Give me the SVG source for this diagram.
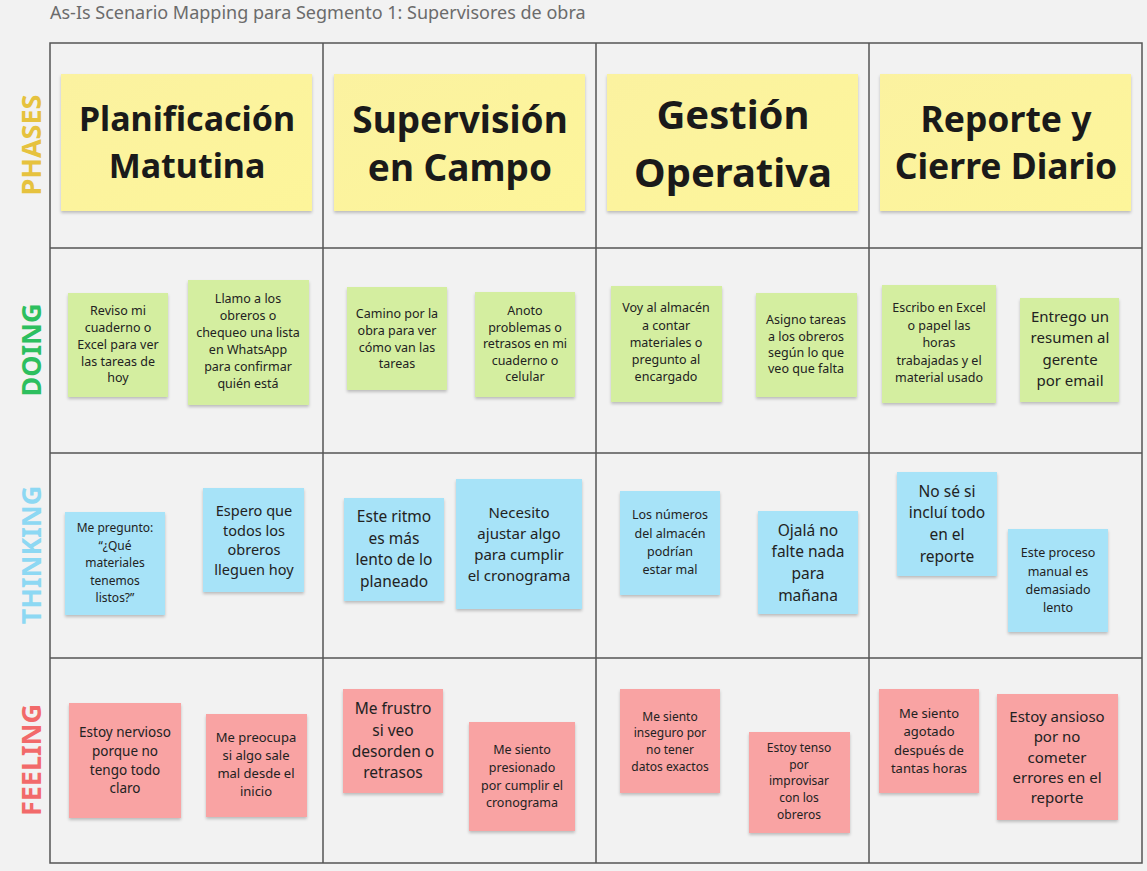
<svg xmlns="http://www.w3.org/2000/svg" width="1147" height="871" viewBox="0 0 1147 871">
<defs>
<filter id="sh" x="-10%" y="-10%" width="120%" height="125%">
<feDropShadow dx="0" dy="2" stdDeviation="1.5" flood-color="#000" flood-opacity="0.22"/>
</filter>
<linearGradient id="yg" x1="0" y1="0" x2="1" y2="1">
<stop offset="0" stop-color="#FBF2A0"/><stop offset="1" stop-color="#FDF59A"/>
</linearGradient>
<style>
text{font-family:"Noto Sans","Open Sans","DejaVu Sans",sans-serif;text-anchor:middle;dominant-baseline:central;fill:#222}
.title{font-size:18px;fill:#6b6b6b;text-anchor:start;dominant-baseline:auto}
.lbl{font-size:27px;font-weight:bold}
.grid{fill:none;stroke:#555;stroke-width:1.5}
.ph rect{fill:url(#yg)}
.dg rect{fill:#D4EEA0}
.th rect{fill:#A7E3F8}
.fe rect{fill:#F9A3A3}
.ph text{font-weight:bold;font-size:34px;fill:#1a1a1a}
rect{filter:url(#sh)}
</style>
</defs>
<rect x="0" y="0" width="1147" height="871" fill="#F2F2F2" style="filter:none"/>
<text class="title" x="50" y="19">As-Is Scenario Mapping para Segmento 1: Supervisores de obra</text>

<g id="grid">
<rect class="grid" x="50" y="43" width="1092" height="820" style="filter:none"/>
<path class="grid" d="M323 43V863M596 43V863M869 43V863M50 248H1142M50 453H1142M50 658H1142"/>
</g>

<g id="row-labels">
<text class="lbl" transform="translate(30,145) rotate(-90)" style="fill:#E6C23E">PHASES</text>
<text class="lbl" transform="translate(30,350) rotate(-90)" style="fill:#2DBF5E">DOING</text>
<text class="lbl" transform="translate(30,555) rotate(-90)" style="fill:#8DD8F3">THINKING</text>
<text class="lbl" transform="translate(30,760) rotate(-90)" style="fill:#F26A6A">FEELING</text>
</g>

<g class="ph">
<g id="phase1"><rect x="61" y="74" width="251" height="137"/><text x="187" y="118">Planificación</text><text x="187" y="165">Matutina</text></g>
<g id="phase2"><rect x="334" y="74" width="251" height="137"/><text x="460" y="118" style="font-size:37px">Supervisión</text><text x="460" y="166" style="font-size:37px">en Campo</text></g>
<g id="phase3"><rect x="607" y="74" width="251" height="137"/><text x="733" y="113" style="font-size:40px">Gestión</text><text x="733" y="171" style="font-size:40px">Operativa</text></g>
<g id="phase4"><rect x="880" y="74" width="251" height="137"/><text x="1006" y="118" style="font-size:35.5px">Reporte y</text><text x="1006" y="165" style="font-size:35.5px">Cierre Diario</text></g>
</g>

<g class="dg">
<g id="d1"><rect x="68" y="293" width="100" height="104"/><g font-size="12.5"><text x="118" y="310">Reviso mi</text><text x="118" y="327">cuaderno o</text><text x="118" y="344">Excel para ver</text><text x="118" y="361">las tareas de</text><text x="118" y="377">hoy</text></g></g>
<g id="d2"><rect x="188" y="280" width="121" height="125"/><g font-size="12.5"><text x="248" y="298">Llamo a los</text><text x="248" y="315">obreros o</text><text x="248" y="332">chequeo una lista</text><text x="248" y="349">en WhatsApp</text><text x="248" y="366">para confirmar</text><text x="248" y="383">quién está</text></g></g>
<g id="d3"><rect x="347" y="287" width="100" height="103"/><g font-size="12.5"><text x="397" y="313">Camino por la</text><text x="397" y="330">obra para ver</text><text x="397" y="347">cómo van las</text><text x="397" y="363">tareas</text></g></g>
<g id="d4"><rect x="475" y="292" width="100" height="105"/><g font-size="12.5"><text x="525" y="310">Anoto</text><text x="525" y="327">problemas o</text><text x="525" y="343">retrasos en mi</text><text x="525" y="360">cuaderno o</text><text x="525" y="376">celular</text></g></g>
<g id="d5"><rect x="611" y="286" width="111" height="116"/><g font-size="12.5"><text x="666" y="307">Voy al almacén</text><text x="666" y="325">a contar</text><text x="666" y="342">materiales o</text><text x="666" y="359">pregunto al</text><text x="666" y="376">encargado</text></g></g>
<g id="d6"><rect x="756" y="293" width="101" height="104"/><g font-size="12.5"><text x="806" y="319">Asigno tareas</text><text x="806" y="336">a los obreros</text><text x="806" y="352">según lo que</text><text x="806" y="368">veo que falta</text></g></g>
<g id="d7"><rect x="882" y="285" width="114" height="118"/><g font-size="12.5"><text x="939" y="307">Escribo en Excel</text><text x="939" y="325">o papel las</text><text x="939" y="342">horas</text><text x="939" y="360">trabajadas y el</text><text x="939" y="377">material usado</text></g></g>
<g id="d8"><rect x="1020" y="298" width="99" height="104"/><g font-size="15"><text x="1070" y="316">Entrego un</text><text x="1070" y="337">resumen al</text><text x="1070" y="359">gerente</text><text x="1070" y="380">por email</text></g></g>
</g>

<g class="th">
<g id="t1"><rect x="65" y="512" width="100" height="103"/><g font-size="12"><text x="115" y="527">Me pregunto:</text><text x="115" y="545">“¿Qué</text><text x="115" y="562">materiales</text><text x="115" y="580">tenemos</text><text x="115" y="597">listos?”</text></g></g>
<g id="t2"><rect x="203" y="488" width="101" height="104"/><g font-size="14.5"><text x="254" y="510">Espero que</text><text x="254" y="530">todos los</text><text x="254" y="549">obreros</text><text x="254" y="569">lleguen hoy</text></g></g>
<g id="t3"><rect x="344" y="498" width="100" height="103"/><g font-size="15.5"><text x="394" y="516">Este ritmo</text><text x="394" y="538">es más</text><text x="394" y="559">lento de lo</text><text x="394" y="581">planeado</text></g></g>
<g id="t4"><rect x="456" y="479" width="126" height="130"/><g font-size="15"><text x="519" y="512">Necesito</text><text x="519" y="533">ajustar algo</text><text x="519" y="554">para cumplir</text><text x="519" y="575">el cronograma</text></g></g>
<g id="t5"><rect x="620" y="491" width="100" height="104"/><g font-size="12.5"><text x="670" y="514">Los números</text><text x="670" y="533">del almacén</text><text x="670" y="551">podrían</text><text x="670" y="569">estar mal</text></g></g>
<g id="t6"><rect x="758" y="511" width="100" height="103"/><g font-size="15.5"><text x="808" y="530">Ojalá no</text><text x="808" y="551">falte nada</text><text x="808" y="573">para</text><text x="808" y="595">mañana</text></g></g>
<g id="t7"><rect x="897" y="472" width="100" height="104"/><g font-size="15.5"><text x="947" y="491">No sé si</text><text x="947" y="512">incluí todo</text><text x="947" y="534">en el</text><text x="947" y="556">reporte</text></g></g>
<g id="t8"><rect x="1008" y="529" width="100" height="103"/><g font-size="12.5"><text x="1058" y="552">Este proceso</text><text x="1058" y="571">manual es</text><text x="1058" y="589">demasiado</text><text x="1058" y="607">lento</text></g></g>
</g>

<g class="fe">
<g id="f1"><rect x="69" y="703" width="112" height="115"/><g font-size="13.5"><text x="125" y="732">Estoy nervioso</text><text x="125" y="751">porque no</text><text x="125" y="770">tengo todo</text><text x="125" y="788">claro</text></g></g>
<g id="f2"><rect x="206" y="714" width="101" height="103"/><g font-size="13"><text x="256" y="737">Me preocupa</text><text x="256" y="755">si algo sale</text><text x="256" y="773">mal desde el</text><text x="256" y="791">inicio</text></g></g>
<g id="f3"><rect x="343" y="689" width="100" height="104"/><g font-size="15.5"><text x="393" y="708">Me frustro</text><text x="393" y="730">si veo</text><text x="393" y="751">desorden o</text><text x="393" y="772">retrasos</text></g></g>
<g id="f4"><rect x="469" y="722" width="106" height="109"/><g font-size="12.5"><text x="522" y="749">Me siento</text><text x="522" y="767">presionado</text><text x="522" y="785">por cumplir el</text><text x="522" y="802">cronograma</text></g></g>
<g id="f5"><rect x="620" y="689" width="100" height="104"/><g font-size="12"><text x="670" y="716">Me siento</text><text x="670" y="732">inseguro por</text><text x="670" y="749">no tener</text><text x="670" y="766">datos exactos</text></g></g>
<g id="f6"><rect x="749" y="732" width="101" height="101"/><g font-size="12"><text x="799" y="747">Estoy tenso</text><text x="799" y="764">por</text><text x="799" y="780">improvisar</text><text x="799" y="797">con los</text><text x="799" y="814">obreros</text></g></g>
<g id="f7"><rect x="879" y="689" width="100" height="104"/><g font-size="13"><text x="929" y="713">Me siento</text><text x="929" y="731">agotado</text><text x="929" y="750">después de</text><text x="929" y="768">tantas horas</text></g></g>
<g id="f8"><rect x="997" y="694" width="121" height="126"/><g font-size="15"><text x="1057" y="716">Estoy ansioso</text><text x="1057" y="736">por no</text><text x="1057" y="757">cometer</text><text x="1057" y="777">errores en el</text><text x="1057" y="797">reporte</text></g></g>
</g>

<g id="connectors"></g>
</svg>
